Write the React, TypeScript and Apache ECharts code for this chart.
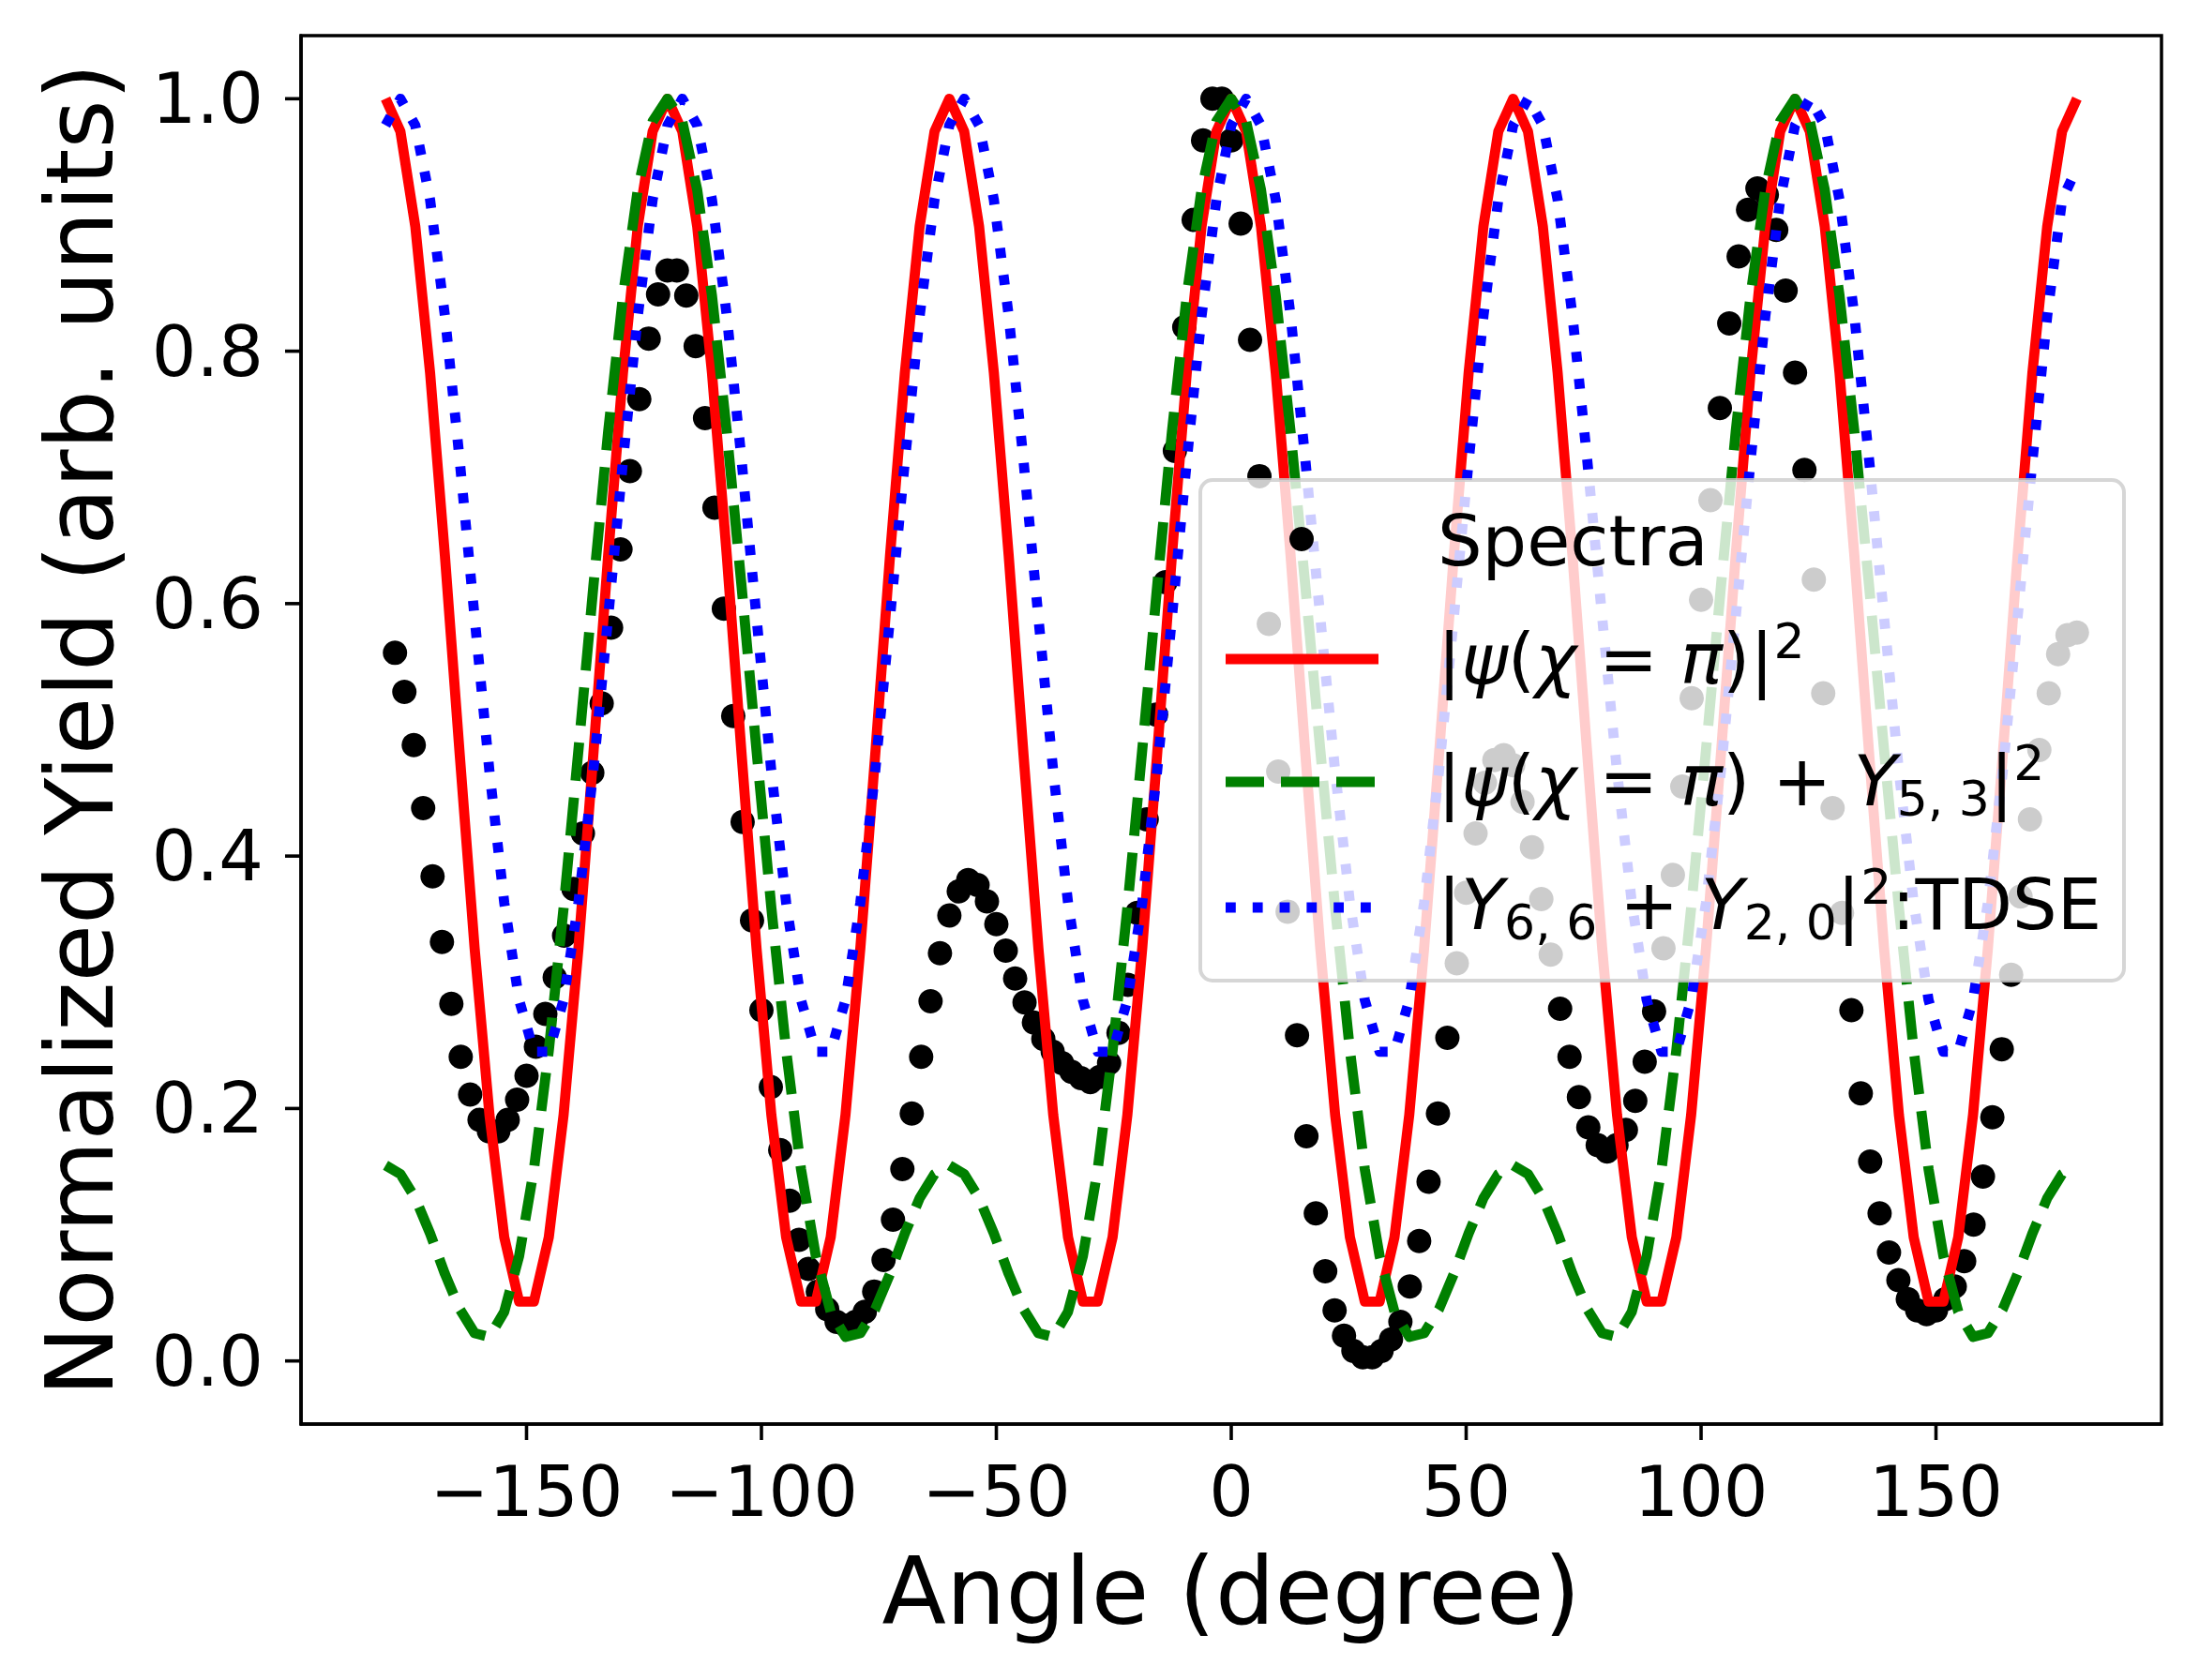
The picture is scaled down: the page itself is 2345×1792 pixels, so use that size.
import React, { useEffect, useRef } from "react";
import * as echarts from "echarts";

const FONT = "DejaVu Sans";

// Experimental spectra (angle in degrees, normalized yield)
const SPECTRA_ANGLE = [
  -178, -176, -174, -172, -170, -168, -166, -164, -162, -160,
  -158, -156, -154, -152, -150, -148, -146, -144, -142, -140,
  -138, -136, -134, -132, -130, -128, -126, -124, -122, -120,
  -118, -116, -114, -112, -110, -108, -106, -104, -102, -100,
  -98, -96, -94, -92, -90, -88, -86, -84, -82, -80,
  -78, -76, -74, -72, -70, -68, -66, -64, -62, -60,
  -58, -56, -54, -52, -50, -48, -46, -44, -42, -40,
  -38, -36, -34, -32, -30, -28, -26, -24, -22, -20,
  -18, -16, -14, -12, -10, -8, -6, -4, -2, 0,
  2, 4, 6, 8, 10, 12, 14, 16, 18, 20,
  22, 24, 26, 28, 30, 32, 34, 36, 38, 40,
  42, 44, 46, 48, 50, 52, 54, 56, 58, 60,
  62, 64, 66, 68, 70, 72, 74, 76, 78, 80,
  82, 84, 86, 88, 90, 92, 94, 96, 98, 100,
  102, 104, 106, 108, 110, 112, 114, 116, 118, 120,
  122, 124, 126, 128, 130, 132, 134, 136, 138, 140,
  142, 144, 146, 148, 150, 152, 154, 156, 158, 160,
  162, 164, 166, 168, 170, 172, 174, 176, 178, 180,
];
const SPECTRA_YIELD = [
  0.561, 0.530, 0.488, 0.438, 0.384, 0.332, 0.283, 0.241, 0.211, 0.191,
  0.182, 0.182, 0.191, 0.207, 0.226, 0.249, 0.275, 0.304, 0.337, 0.374,
  0.418, 0.466, 0.521, 0.581, 0.643, 0.705, 0.762, 0.810, 0.845, 0.864,
  0.864, 0.844, 0.804, 0.747, 0.676, 0.596, 0.511, 0.427, 0.349, 0.278,
  0.217, 0.167, 0.127, 0.096, 0.073, 0.055, 0.041, 0.031, 0.028, 0.031,
  0.039, 0.055, 0.080, 0.112, 0.152, 0.196, 0.241, 0.285, 0.323, 0.353,
  0.372, 0.381, 0.377, 0.364, 0.346, 0.325, 0.303, 0.284, 0.268, 0.255,
  0.245, 0.236, 0.229, 0.224, 0.221, 0.225, 0.236, 0.260, 0.298, 0.355,
  0.429, 0.512, 0.617, 0.721, 0.819, 0.904, 0.967, 1.000, 1.000, 0.967,
  0.901, 0.809, 0.701, 0.584, 0.467, 0.356, 0.258, 0.178, 0.117, 0.071,
  0.040, 0.020, 0.008, 0.003, 0.003, 0.008, 0.017, 0.031, 0.059, 0.095,
  0.142, 0.196, 0.256, 0.315, 0.371, 0.418, 0.458, 0.476, 0.480, 0.472,
  0.443, 0.407, 0.366, 0.322, 0.279, 0.241, 0.209, 0.185, 0.171, 0.166,
  0.171, 0.183, 0.206, 0.237, 0.277, 0.327, 0.385, 0.455, 0.525, 0.603,
  0.682, 0.755, 0.822, 0.875, 0.912, 0.929, 0.924, 0.896, 0.848, 0.783,
  0.706, 0.619, 0.529, 0.438, 0.355, 0.278, 0.212, 0.158, 0.117, 0.086,
  0.064, 0.049, 0.040, 0.037, 0.040, 0.049, 0.059, 0.079, 0.108, 0.146,
  0.193, 0.247, 0.306, 0.368, 0.429, 0.484, 0.529, 0.560, 0.575, 0.577,
];

// Model curves sampled on a common angle grid (degrees)
const MODEL_ANGLE = [
  -180, -176.84, -173.68, -170.53, -167.37, -164.21, -161.05, -157.89, -154.74, -151.58,
  -148.42, -145.26, -142.11, -138.95, -135.79, -132.63, -129.47, -126.32, -123.16, -120,
  -116.84, -113.68, -110.53, -107.37, -104.21, -101.05, -97.89, -94.74, -91.58, -88.42,
  -85.26, -82.11, -78.95, -75.79, -72.63, -69.47, -66.32, -63.16, -60, -56.84,
  -53.68, -50.53, -47.37, -44.21, -41.05, -37.89, -34.74, -31.58, -28.42, -25.26,
  -22.11, -18.95, -15.79, -12.63, -9.47, -6.32, -3.16, 0, 3.16, 6.32,
  9.47, 12.63, 15.79, 18.95, 22.11, 25.26, 28.42, 31.58, 34.74, 37.89,
  41.05, 44.21, 47.37, 50.53, 53.68, 56.84, 60, 63.16, 66.32, 69.47,
  72.63, 75.79, 78.95, 82.11, 85.26, 88.42, 91.58, 94.74, 97.89, 101.05,
  104.21, 107.37, 110.53, 113.68, 116.84, 120, 123.16, 126.32, 129.47, 132.63,
  135.79, 138.95, 142.11, 145.26, 148.42, 151.58, 154.74, 157.89, 161.05, 164.21,
  167.37, 170.53, 173.68, 176.84, 180,
];

// |psi(chi = pi)|^2
const PSI_PI = [
  1.000, 0.974, 0.899, 0.783, 0.638, 0.480, 0.327, 0.195, 0.098, 0.047, 0.047, 0.098, 0.195, 0.327, 0.480, 0.638, 0.783, 0.899, 0.974,
  1.000, 0.974, 0.899, 0.783, 0.638, 0.480, 0.327, 0.195, 0.098, 0.047, 0.047, 0.098, 0.195, 0.327, 0.480, 0.638, 0.783, 0.899, 0.974,
  1.000, 0.974, 0.899, 0.783, 0.638, 0.480, 0.327, 0.195, 0.098, 0.047, 0.047, 0.098, 0.195, 0.327, 0.480, 0.638, 0.783, 0.899, 0.974,
  1.000, 0.974, 0.899, 0.783, 0.638, 0.480, 0.327, 0.195, 0.098, 0.047, 0.047, 0.098, 0.195, 0.327, 0.480, 0.638, 0.783, 0.899, 0.974,
  1.000, 0.974, 0.899, 0.783, 0.638, 0.480, 0.327, 0.195, 0.098, 0.047, 0.047, 0.098, 0.195, 0.327, 0.480, 0.638, 0.783, 0.899, 0.974,
  1.000, 0.974, 0.899, 0.783, 0.638, 0.480, 0.327, 0.195, 0.098, 0.047, 0.047, 0.098, 0.195, 0.327, 0.480, 0.638, 0.783, 0.899, 0.974,
  1.000,
];

// |psi(chi = pi) + Y_{5,3}|^2
const PSI_PI_Y53 = [
  0.155, 0.148, 0.129, 0.101, 0.069, 0.041, 0.022, 0.019, 0.039, 0.083, 0.152, 0.246, 0.359, 0.484, 0.613, 0.736, 0.844, 0.928, 0.982, 1.000,
  0.982, 0.928, 0.844, 0.736, 0.613, 0.484, 0.359, 0.246, 0.152, 0.083, 0.039, 0.019, 0.022, 0.041, 0.069, 0.101, 0.129, 0.148, 0.155,
  0.148, 0.129, 0.101, 0.069, 0.041, 0.022, 0.019, 0.039, 0.083, 0.152, 0.246, 0.359, 0.484, 0.613, 0.736, 0.844, 0.928, 0.982, 1.000,
  0.982, 0.928, 0.844, 0.736, 0.613, 0.484, 0.359, 0.246, 0.152, 0.083, 0.039, 0.019, 0.022, 0.041, 0.069, 0.101, 0.129, 0.148, 0.155,
  0.148, 0.129, 0.101, 0.069, 0.041, 0.022, 0.019, 0.039, 0.083, 0.152, 0.246, 0.359, 0.484, 0.613, 0.736, 0.844, 0.928, 0.982, 1.000,
  0.982, 0.928, 0.844, 0.736, 0.613, 0.484, 0.359, 0.246, 0.152, 0.083, 0.039, 0.019, 0.022, 0.041, 0.069, 0.101, 0.129, 0.148, 0.155,
];

// |Y_{6,6} + Y_{2,0}|^2 : TDSE
const Y66_Y20_TDSE = [
  0.979,
  1.000, 0.979, 0.920, 0.828, 0.713, 0.589, 0.467, 0.363, 0.286, 0.245, 0.245, 0.286, 0.363, 0.467, 0.589, 0.713, 0.828, 0.920, 0.979,
  1.000, 0.979, 0.920, 0.828, 0.713, 0.589, 0.467, 0.363, 0.286, 0.245, 0.245, 0.286, 0.363, 0.467, 0.589, 0.713, 0.828, 0.920, 0.979,
  1.000, 0.979, 0.920, 0.828, 0.713, 0.589, 0.467, 0.363, 0.286, 0.245, 0.245, 0.286, 0.363, 0.467, 0.589, 0.713, 0.828, 0.920, 0.979,
  1.000, 0.979, 0.920, 0.828, 0.713, 0.589, 0.467, 0.363, 0.286, 0.245, 0.245, 0.286, 0.363, 0.467, 0.589, 0.713, 0.828, 0.920, 0.979,
  1.000, 0.979, 0.920, 0.828, 0.713, 0.589, 0.467, 0.363, 0.286, 0.245, 0.245, 0.286, 0.363, 0.467, 0.589, 0.713, 0.828, 0.920, 0.979,
  1.000, 0.979, 0.920, 0.828, 0.713, 0.589, 0.467, 0.363, 0.286, 0.245, 0.245, 0.286, 0.363, 0.467, 0.589, 0.713, 0.828, 0.920, 0.945,
];

const X_RANGE = [-198, 198];
const Y_RANGE = [-0.05, 1.05];
const X_TICKS = [-150, -100, -50, 0, 50, 100, 150];
const Y_TICKS = [0, 0.2, 0.4, 0.6, 0.8, 1.0];

const SERIES_NAMES = [
  "Spectra",
  "|ψ(χ = π)|²",
  "|ψ(χ = π) + Y5,3|²",
  "|Y6,6 + Y2,0|²:TDSE",
];
const LEGEND_RICH_TEXT = [
  "{n|Spectra}",
  "{n||}{i|ψ}{n|(}{i|χ}{n| = }{i|π}{n|)|}{sup|2}",
  "{n||}{i|ψ}{n|(}{i|χ}{n| = }{i|π}{n|) + }{i|Y}{sub|5, 3}{n||}{sup|2}",
  "{n||}{i|Y}{sub|6, 6}{n| + }{i|Y}{sub|2, 0}{n||}{sup|2}{n|:TDSE}",
];

const RED = "#ff0000";
const GREEN = "#008000";
const BLUE = "#0000ff";
const LW = 10.8;
const DASH = [41, 18];
const DOT = [10.8, 18];
const TICK_LEN = 17;
const TICK_W = 3.6;

function pairs(xs: number[], ys: number[]) {
  return xs.map((x, i) => [x, ys[i]]);
}

export default function App() {
  const ref = useRef<HTMLDivElement | null>(null);

  useEffect(() => {
    if (!ref.current) return;
    const chart = echarts.init(ref.current, null, { renderer: "svg" });

    const rich = {
      n: { fontSize: 75, fontFamily: FONT, lineHeight: 90, fill: "#000", verticalAlign: "middle" },
      i: { fontSize: 75, fontFamily: FONT, fontStyle: "italic", lineHeight: 90, fill: "#000", verticalAlign: "middle" },
      sup: { fontSize: 52, fontFamily: FONT, lineHeight: 52, fill: "#000", verticalAlign: "top" },
      sub: { fontSize: 52, fontFamily: FONT, lineHeight: 48, fill: "#000", verticalAlign: "bottom" },
    };

    const legendRows = [577, 703, 833, 965];
    const textX = 1533;
    const handleX1 = 1307;
    const handleX2 = 1470;

    const legendGraphic: any[] = [
      {
        type: "rect",
        z: 100,
        silent: true,
        shape: { x: 1280, y: 512, width: 985, height: 534, r: 13 },
        style: { fill: "rgba(255,255,255,0.8)", stroke: "rgba(204,204,204,0.8)", lineWidth: 4 },
      },
      {
        type: "circle",
        z: 101,
        silent: true,
        shape: { cx: 1388, cy: 575, r: 13 },
        style: { fill: "#000" },
      },
      {
        type: "line",
        z: 101,
        silent: true,
        shape: { x1: handleX1, y1: 703, x2: handleX2, y2: 703 },
        style: { stroke: RED, lineWidth: LW, lineCap: "butt" },
      },
      {
        type: "line",
        z: 101,
        silent: true,
        shape: { x1: handleX1, y1: 834, x2: handleX2, y2: 834 },
        style: { stroke: GREEN, lineWidth: LW, lineDash: DASH, lineCap: "butt" },
      },
      {
        type: "line",
        z: 101,
        silent: true,
        shape: { x1: handleX1, y1: 968, x2: handleX2, y2: 968 },
        style: { stroke: BLUE, lineWidth: LW, lineDash: DOT, lineCap: "butt" },
      },
    ];
    LEGEND_RICH_TEXT.forEach((t, k) => {
      legendGraphic.push({
        type: "text",
        z: 102,
        silent: true,
        x: textX,
        y: legendRows[k],
        style: {
          text: t,
          rich,
          fill: "#000",
          font: `75px "${FONT}"`,
          align: "left",
          verticalAlign: "middle",
          textAlign: "left",
          textVerticalAlign: "middle",
        },
      });
    });

    const axisLineStyle = { color: "#000", width: 3.5 };

    // Tick marks as filled rects, placed through the axis scales (outside the plot)
    const xTickSeries = {
      type: "custom",
      name: "xTicks",
      coordinateSystem: "cartesian2d",
      clip: false,
      silent: true,
      z: 20,
      data: X_TICKS.map((v) => [v, Y_RANGE[0]]),
      renderItem: (params: any, api: any) => {
        const p = api.coord([api.value(0), api.value(1)]);
        return {
          type: "rect",
          shape: { x: p[0] - TICK_W / 2, y: p[1], width: TICK_W, height: TICK_LEN },
          style: { fill: "#000" },
        };
      },
    };
    const yTickSeries = {
      type: "custom",
      name: "yTicks",
      coordinateSystem: "cartesian2d",
      clip: false,
      silent: true,
      z: 20,
      data: Y_TICKS.map((v) => [X_RANGE[0], v]),
      renderItem: (params: any, api: any) => {
        const p = api.coord([api.value(0), api.value(1)]);
        return {
          type: "rect",
          shape: { x: p[0] - TICK_LEN, y: p[1] - TICK_W / 2, width: TICK_LEN, height: TICK_W },
          style: { fill: "#000" },
        };
      },
    };

    const option: any = {
      animation: false,
      backgroundColor: "#ffffff",
      textStyle: { fontFamily: FONT },
      grid: {
        left: 321,
        right: 40,
        top: 38,
        bottom: 273,
        show: true,
        borderColor: "#000",
        borderWidth: 3.5,
        backgroundColor: "transparent",
        containLabel: false,
      },
      xAxis: {
        type: "value",
        min: X_RANGE[0],
        max: X_RANGE[1],
        axisLine: { show: true, onZero: false, lineStyle: axisLineStyle },
        axisTick: { show: false },
        axisLabel: {
          customValues: X_TICKS,
          formatter: (v: number) => (v < 0 ? "\u2212" + Math.abs(v) : String(v)),
          fontSize: 75,
          fontFamily: FONT,
          color: "#000",
          margin: 34,
        },
        splitLine: { show: false },
        name: "Angle (degree)",
        nameLocation: "middle",
        nameGap: 128,
        nameTextStyle: { fontSize: 100, fontFamily: FONT, color: "#000" },
      },
      yAxis: {
        type: "value",
        min: Y_RANGE[0],
        max: Y_RANGE[1],
        axisLine: { show: true, onZero: false, lineStyle: axisLineStyle },
        axisTick: { show: false },
        axisLabel: {
          customValues: Y_TICKS,
          formatter: (v: number) => v.toFixed(1),
          fontSize: 75,
          fontFamily: FONT,
          color: "#000",
          margin: 40,
        },
        splitLine: { show: false },
        name: "Normalized Yield (arb. units)",
        nameLocation: "middle",
        nameGap: 186,
        nameTextStyle: { fontSize: 100, fontFamily: FONT, color: "#000" },
      },
      series: [
        {
          type: "scatter",
          name: SERIES_NAMES[0],
          data: pairs(SPECTRA_ANGLE, SPECTRA_YIELD),
          symbol: "circle",
          symbolSize: 26,
          itemStyle: { color: "#000", opacity: 1 },
          silent: true,
        },
        {
          type: "line",
          name: SERIES_NAMES[1],
          data: pairs(MODEL_ANGLE, PSI_PI),
          symbol: "none",
          lineStyle: { color: RED, width: LW, join: "round", cap: "butt", opacity: 1 },
          silent: true,
        },
        {
          type: "line",
          name: SERIES_NAMES[2],
          data: pairs(MODEL_ANGLE, PSI_PI_Y53),
          symbol: "none",
          lineStyle: { color: GREEN, width: LW, type: DASH, join: "round", cap: "butt", opacity: 1 },
          silent: true,
        },
        {
          type: "line",
          name: SERIES_NAMES[3],
          data: pairs(MODEL_ANGLE, Y66_Y20_TDSE),
          symbol: "none",
          lineStyle: { color: BLUE, width: LW, type: DOT, join: "round", cap: "butt", opacity: 1 },
          silent: true,
        },
        xTickSeries,
        yTickSeries,
      ],
      graphic: { elements: legendGraphic },
    };

    chart.setOption(option);

    return () => {
      chart.dispose();
    };
  }, []);

  return (
    <div
      ref={ref}
      style={{ position: "absolute", left: 0, top: 0, width: 2345, height: 1792, background: "#fff" }}
    />
  );
}
